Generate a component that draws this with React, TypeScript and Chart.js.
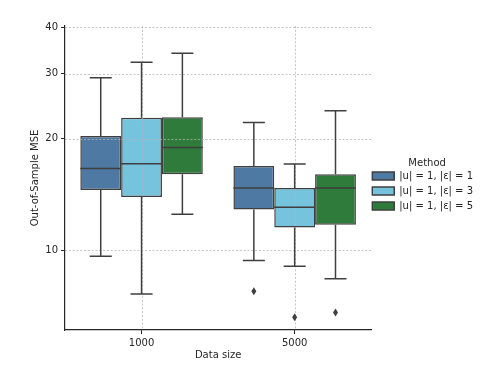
import React, { useEffect, useRef } from "react";
import { Chart, registerables } from "chart.js";

Chart.register(...registerables);

const categories = ["1000", "5000"];
const methods = ["|u| = 1, |ε| = 1", "|u| = 1, |ε| = 3", "|u| = 1, |ε| = 5"];
const yTickValues = [10, 20, 30, 40];

// per method, per category
const whiskerLow = [
  [9.65, 9.4],
  [7.63, 9.07],
  [12.52, 8.39],
];
const q1 = [
  [14.56, 12.89],
  [13.94, 11.53],
  [16.04, 11.72],
];
const median = [
  [16.64, 14.74],
  [17.13, 13.07],
  [18.95, 14.74],
];
const q3 = [
  [20.34, 16.89],
  [22.79, 14.74],
  [22.88, 16.04],
];
const whiskerHigh = [
  [29.24, 22.13],
  [32.16, 17.1],
  [34.0, 23.79],
];
const outliers = [
  [[], [7.76]],
  [[], [6.6]],
  [[], [6.8]],
];

const fillColors = ["#4e79a3", "#76c3de", "#2e7b3b"];
const edgeColor = "#3f3f3f";
const textColor = "#262626";
const FONT = { family: "'DejaVu Sans', sans-serif", size: 10 };

export default function App() {
  const ref = useRef<HTMLCanvasElement>(null);

  useEffect(() => {
    const canvas = ref.current!;

    const boxPlugin = {
      id: "boxplotExtras",
      afterDatasetsDraw(chart: any) {
        const { ctx, chartArea, scales } = chart;
        const xs = scales.x;
        const ys = scales.y;
        ctx.save();
        // grid (drawn above the boxes, below the lines, like matplotlib)
        ctx.strokeStyle = "rgba(180,180,180,0.9)";
        ctx.lineWidth = 0.8;
        ctx.setLineDash([2.2, 1.6]);
        yTickValues.forEach((v) => {
          const py = Math.round(ys.getPixelForValue(v)) + 0.5;
          ctx.beginPath();
          ctx.moveTo(chartArea.left, py);
          ctx.lineTo(chartArea.right, py);
          ctx.stroke();
        });
        categories.forEach((_, i) => {
          const px = Math.round(xs.getPixelForValue(i)) + 0.5;
          ctx.beginPath();
          ctx.moveTo(px, chartArea.top);
          ctx.lineTo(px, chartArea.bottom);
          ctx.stroke();
        });
        ctx.setLineDash([]);

        ctx.strokeStyle = edgeColor;
        ctx.fillStyle = edgeColor;
        ctx.lineWidth = 1.5;
        methods.forEach((_, i) => {
          const meta = chart.getDatasetMeta(i);
          meta.data.forEach((el: any, j: number) => {
            const x = el.x;
            const w = el.width;
            const yq1 = ys.getPixelForValue(q1[i][j]);
            const yq3 = ys.getPixelForValue(q3[i][j]);
            const ylo = ys.getPixelForValue(whiskerLow[i][j]);
            const yhi = ys.getPixelForValue(whiskerHigh[i][j]);
            const ymed = ys.getPixelForValue(median[i][j]);
            const cap = w * 0.27;
            ctx.beginPath();
            ctx.moveTo(x, yq1);
            ctx.lineTo(x, ylo);
            ctx.moveTo(x, yq3);
            ctx.lineTo(x, yhi);
            ctx.moveTo(x - cap, ylo);
            ctx.lineTo(x + cap, ylo);
            ctx.moveTo(x - cap, yhi);
            ctx.lineTo(x + cap, yhi);
            ctx.moveTo(x - w / 2, ymed);
            ctx.lineTo(x + w / 2, ymed);
            ctx.stroke();
            outliers[i][j].forEach((v: number) => {
              const py = ys.getPixelForValue(v);
              ctx.beginPath();
              ctx.moveTo(x, py - 4);
              ctx.lineTo(x + 2.5, py);
              ctx.lineTo(x, py + 4);
              ctx.lineTo(x - 2.5, py);
              ctx.closePath();
              ctx.fill();
            });
          });
        });
        ctx.restore();
      },
    };

    const chart = new Chart(canvas, {
      type: "bar",
      data: {
        labels: categories,
        datasets: methods.map((m, i) => ({
          label: m,
          data: q1[i].map((v, j) => [v, q3[i][j]]),
          backgroundColor: fillColors[i],
          borderColor: edgeColor,
          borderWidth: 1.5,
          borderSkipped: false,
          categoryPercentage: 0.8,
          barPercentage: 1,
        })),
      } as any,
      options: {
        responsive: false,
        animation: false,
        events: [],
        layout: { padding: { top: 26, right: 5, bottom: 0, left: 0 } },
        plugins: {
          tooltip: { enabled: false },
          legend: {
            position: "right",
            align: "start",
            title: {
              display: true,
              text: "Method",
              color: textColor,
              font: FONT,
              padding: { top: 132, bottom: 0 },
            },
            labels: {
              boxWidth: 22,
              boxHeight: 8,
              padding: 1,
              color: textColor,
              font: { ...FONT, lineHeight: 1.4 },
              generateLabels: (c: any) =>
                Chart.defaults.plugins.legend.labels
                  .generateLabels(c)
                  .map((l: any) => ({ ...l, text: [l.text] })),
            },
          },
        },
        scales: {
          x: {
            grid: {
              display: true,
              offset: false,
              drawOnChartArea: false,
              tickColor: textColor,
              tickLength: 4,
            },
            border: { display: true, color: textColor, width: 1.2 },
            ticks: { color: textColor, font: FONT, padding: 3 },
            title: {
              display: true,
              text: "Data size",
              color: textColor,
              font: FONT,
              padding: { top: 0, bottom: 13 },
            },
            afterFit: (s: any) => {
              s.height = 44;
            },
          },
          y: {
            type: "logarithmic",
            min: 6.1,
            max: 40.3,
            afterBuildTicks: (s: any) => {
              s.ticks = yTickValues.map((v) => ({ value: v }));
            },
            grid: {
              display: true,
              drawOnChartArea: false,
              tickColor: textColor,
              tickLength: 4,
            },
            border: { display: true, color: textColor, width: 1.2 },
            ticks: {
              color: textColor,
              font: FONT,
              padding: 3,
              callback: (v: any) => String(v),
            },
            title: {
              display: true,
              text: "Out-of-Sample MSE",
              color: textColor,
              font: FONT,
              padding: { top: 29, bottom: 0 },
            },
            afterFit: (s: any) => {
              s.width = 65;
            },
          },
        },
      } as any,
      plugins: [boxPlugin],
    });

    return () => chart.destroy();
  }, []);

  return (
    <div style={{ position: "absolute", left: 0, top: 0, width: 488, height: 374, background: "#fff" }}>
      <canvas ref={ref} width={488} height={374} />
    </div>
  );
}
